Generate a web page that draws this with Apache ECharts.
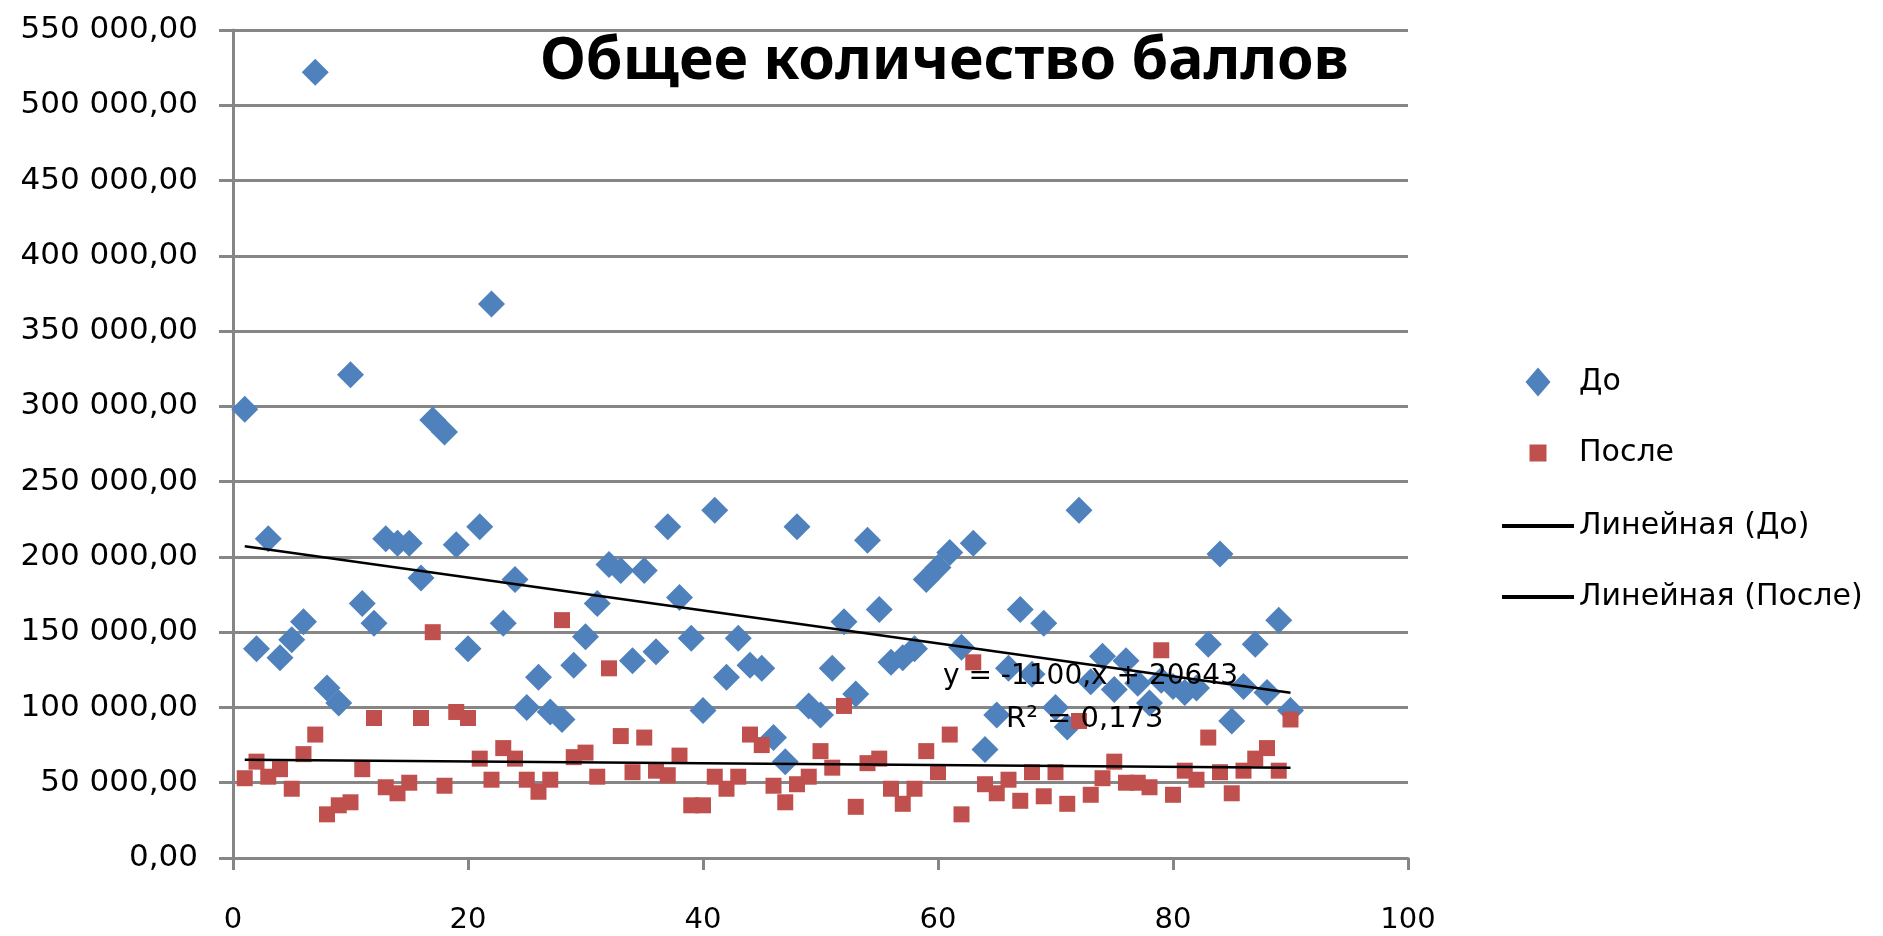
<!DOCTYPE html>
<html>
<head>
<meta charset="utf-8">
<title>Общее количество баллов</title>
<script src="https://cdn.jsdelivr.net/npm/echarts@6/dist/echarts.min.js"></script>
<style>
html, body { margin: 0; padding: 0; background: #fff; }
#main { width: 1883px; height: 936px; }
</style>
</head>
<body>
<div id="main"></div>
<script>
// номера наблюдений (ось X)
var nomera = [1, 2, 3, 4, 5, 6, 7, 8, 9, 10,
    11, 12, 13, 14, 15, 16, 17, 18, 19, 20,
    21, 22, 23, 24, 25, 26, 27, 28, 29, 30,
    31, 32, 33, 34, 35, 36, 37, 38, 39, 40,
    41, 42, 43, 44, 45, 46, 47, 48, 49, 50,
    51, 52, 53, 54, 55, 56, 57, 58, 59, 60,
    61, 62, 63, 64, 65, 66, 67, 68, 69, 70,
    71, 72, 73, 74, 75, 76, 77, 78, 79, 80,
    81, 82, 83, 84, 85, 86, 87, 88, 89, 90];

// баллы "До"
var ballyDo = [298000, 139000, 212000, 133000, 145000, 157000, 522000, 113000, 103000, 321000,
    169000, 156000, 212000, 209000, 209000, 186000, 291000, 283000, 208000, 139000,
    220000, 368000, 156000, 185000, 100000, 120000, 97000, 92000, 128000, 147000,
    169000, 195000, 191000, 131000, 191000, 137000, 220000, 173000, 146000, 98000,
    231000, 120000, 146000, 128000, 126000, 80000, 64000, 220000, 101000, 95000,
    126000, 157000, 109000, 211000, 165000, 130000, 133000, 139000, 185000, 193000,
    203000, 140000, 209000, 72000, 95000, 126000, 165000, 122000, 156000, 100000,
    87000, 231000, 117000, 134000, 112000, 131000, 116000, 103000, 118000, 114000,
    110000, 113000, 142000, 202000, 91000, 114000, 142000, 110000, 158000, 98000];

// баллы "После"
var ballyPosle = [53000, 64000, 54000, 59000, 46000, 69000, 82000, 29000, 35000, 37000,
    59000, 93000, 47000, 43000, 50000, 93000, 150000, 48000, 97000, 93000,
    66000, 52000, 73000, 66000, 52000, 44000, 52000, 158000, 67000, 70000,
    54000, 126000, 81000, 57000, 80000, 58000, 55000, 68000, 35000, 35000,
    54000, 46000, 54000, 82000, 75000, 48000, 37000, 49000, 54000, 71000,
    60000, 101000, 34000, 63000, 66000, 46000, 36000, 46000, 71000, 57000,
    82000, 29000, 130000, 49000, 43000, 52000, 38000, 57000, 41000, 57000,
    36000, 91000, 42000, 53000, 64000, 50000, 50000, 47000, 138000, 42000,
    58000, 52000, 80000, 57000, 43000, 58000, 66000, 73000, 58000, 92000];

// подписи линии тренда (как на исходной картинке)
var uravnenie = 'y = -1100,x + 20643';
var r2Tekst = 'R² = 0,173';

var shrift = '"DejaVu Sans", Verdana, sans-serif';

function tochki(xs, ys) {
    return xs.map(function (x, i) { return [x, ys[i]]; });
}

// линейная аппроксимация методом наименьших квадратов
function trend(xs, ys) {
    var n = xs.length, sx = 0, sy = 0, sxx = 0, sxy = 0;
    for (var i = 0; i < n; i++) {
        sx += xs[i]; sy += ys[i];
        sxx += xs[i] * xs[i]; sxy += xs[i] * ys[i];
    }
    var b = (n * sxy - sx * sy) / (n * sxx - sx * sx);
    var a = (sy - b * sx) / n;
    var x0 = Math.min.apply(null, xs), x1 = Math.max.apply(null, xs);
    return [[x0, a + b * x0], [x1, a + b * x1]];
}

function chislo(v) {
    var s = v.toFixed(2).split('.');
    return s[0].replace(/\B(?=(\d{3})+(?!\d))/g, ' ') + ',' + s[1];
}

var legendText = { fontFamily: shrift, fontSize: 30, color: '#000', lineHeight: 30 };

// значки легенды: фигура по центру широкой рамки 72 px (крошечные точки по краям задают рамку)
var iconRomb = 'path://M0,14.5L0.05,14.5L0.05,14.55Z M71.95,14.5L72,14.5L72,14.55Z M36,0L48.5,14.5L36,29L23.5,14.5Z';
var iconKvadrat = 'path://M0,8.5L0.05,8.5L0.05,8.55Z M71.95,8.5L72,8.5L72,8.55Z M27.5,0L44.5,0L44.5,17L27.5,17Z';

var myChart = echarts.init(document.getElementById('main'));

var option = {
    animation: false,
    backgroundColor: '#fff',
    title: {
        text: 'Общее количество баллов',
        left: 535,
        top: 28,
        textStyle: {
            fontFamily: '"Noto Sans", "DejaVu Sans", sans-serif',
            fontSize: 59,
            fontWeight: 'bold',
            color: '#000'
        }
    },
    grid: {
        left: 233,
        right: 475,
        top: 30,
        bottom: 78,
        containLabel: false,
        outerBoundsMode: 'none'
    },
    legend: [{
        data: [{ name: 'До', icon: iconRomb }],
        left: 1497,
        top: 362,
        itemWidth: 72,
        itemHeight: 29,
        textStyle: legendText
    }, {
        data: [{ name: 'После', icon: iconKvadrat }],
        left: 1497,
        top: 433,
        itemWidth: 72,
        itemHeight: 17,
        textStyle: legendText
    }, {
        data: ['Линейная (До)', 'Линейная (После)'],
        orient: 'vertical',
        left: 1497,
        top: 506,
        itemGap: 41,
        itemWidth: 72,
        itemHeight: 4,
        icon: 'rect',
        itemStyle: { color: '#000' },
        textStyle: legendText
    }],
    xAxis: {
        type: 'value',
        min: 0,
        max: 100,
        interval: 20,
        axisLine: { lineStyle: { color: '#868686', width: 3 } },
        axisTick: { show: true, length: 12, lineStyle: { color: '#868686', width: 3 } },
        axisLabel: { margin: 48, fontFamily: shrift, fontSize: 29, color: '#000' },
        splitLine: { show: false }
    },
    yAxis: {
        type: 'value',
        min: 0,
        max: 550000,
        interval: 50000,
        axisLine: { show: true, lineStyle: { color: '#868686', width: 3 } },
        axisTick: { show: true, length: 14, lineStyle: { color: '#868686', width: 3 } },
        axisLabel: {
            margin: 35,
            fontFamily: shrift,
            fontSize: 31,
            color: '#000',
            formatter: chislo
        },
        splitLine: { lineStyle: { color: '#868686', width: 3 } }
    },
    series: [{
        name: 'До',
        type: 'scatter',
        symbol: 'diamond',
        symbolSize: 27,
        itemStyle: { color: '#4F81BD', opacity: 1 },
        data: tochki(nomera, ballyDo),
        z: 2
    }, {
        name: 'После',
        type: 'scatter',
        symbol: 'rect',
        symbolSize: 16,
        itemStyle: { color: '#C0504D', opacity: 1 },
        data: tochki(nomera, ballyPosle),
        z: 3
    }, {
        name: 'Линейная (До)',
        type: 'line',
        symbol: 'none',
        itemStyle: { color: '#000' },
        lineStyle: { color: '#000', width: 2.5 },
        data: trend(nomera, ballyDo),
        z: 4
    }, {
        name: 'Линейная (После)',
        type: 'line',
        symbol: 'none',
        itemStyle: { color: '#000' },
        lineStyle: { color: '#000', width: 2.5 },
        data: trend(nomera, ballyPosle),
        z: 4
    }],
    graphic: [{
        type: 'text',
        left: 943,
        top: 663,
        z: 100,
        style: { text: uravnenie, font: '28px ' + shrift, fill: '#000' }
    }, {
        type: 'text',
        left: 1006,
        top: 705,
        z: 100,
        style: { text: r2Tekst, font: '29px ' + shrift, fill: '#000' }
    }]
};

myChart.setOption(option);
</script>
</body>
</html>
